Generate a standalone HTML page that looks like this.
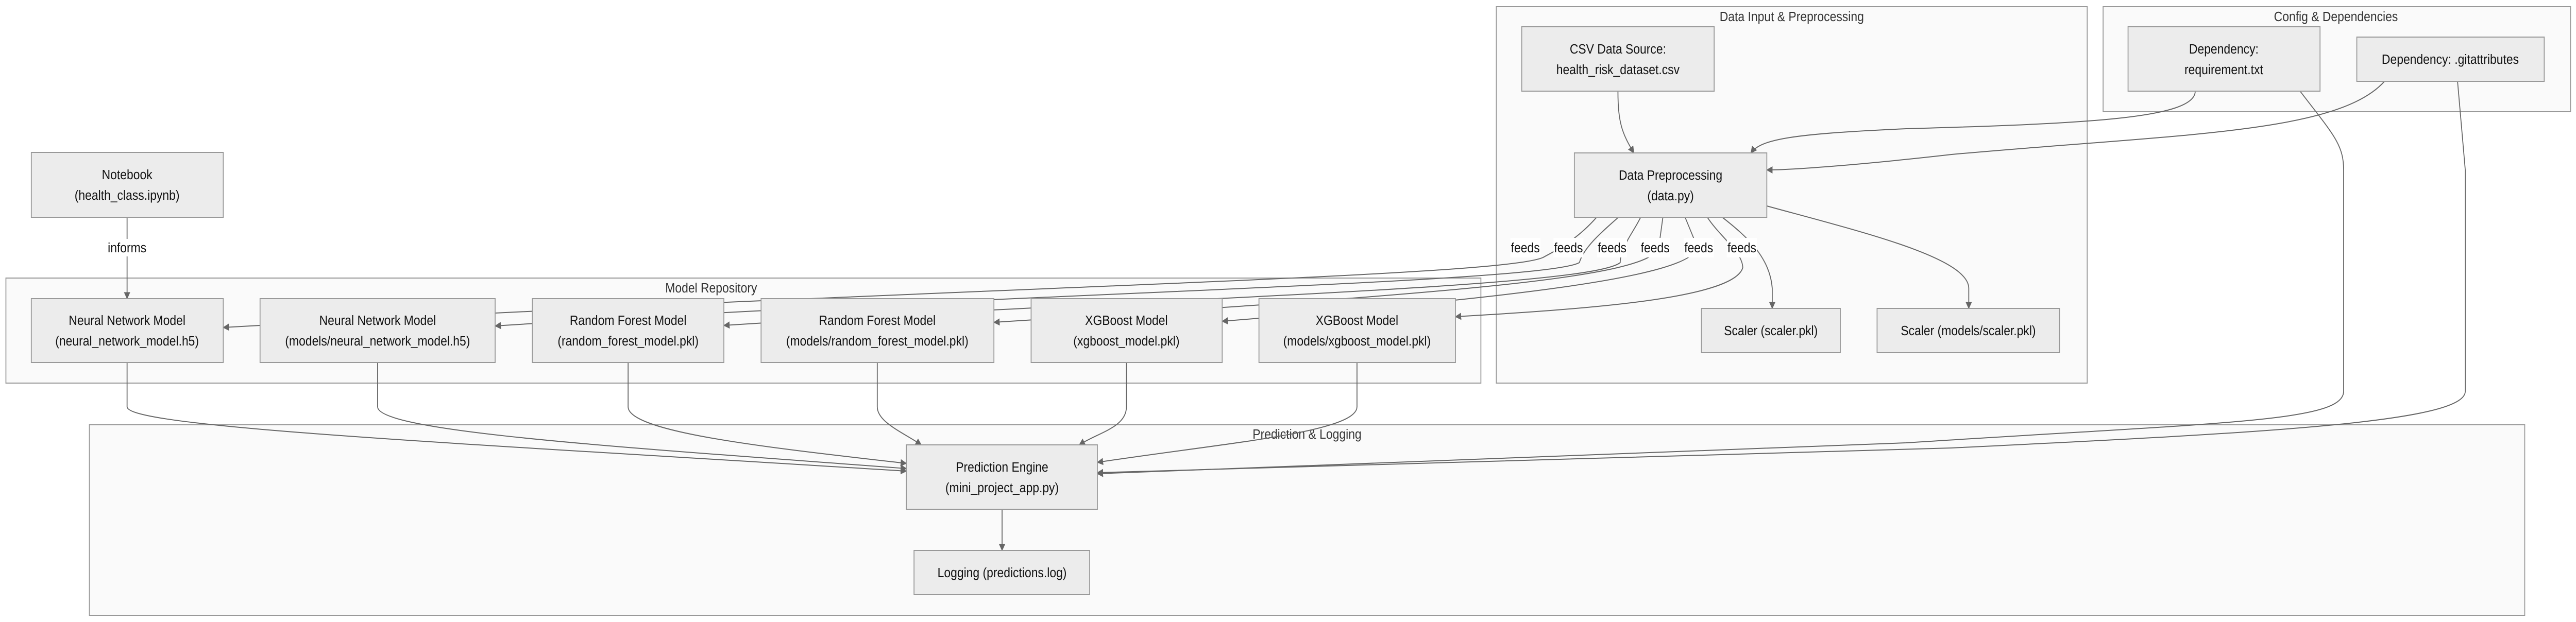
<!DOCTYPE html>
<html><head><meta charset="utf-8">
<style>
html,body{margin:0;padding:0;background:#fff;width:100%;height:100%;overflow:hidden;}
body{font-family:"Liberation Sans",sans-serif;}
svg{position:absolute;left:0;top:0;width:100vw;height:100vh;display:block;}
</style></head><body>
<svg viewBox="0 0 5676 1208" preserveAspectRatio="none" xmlns="http://www.w3.org/2000/svg">
<defs>
<marker id="b" viewBox="0 0 10 10" refX="9" refY="5" markerWidth="14" markerHeight="14" markerUnits="userSpaceOnUse" orient="auto"><path d="M0,0 L10,5 L0,10 z" fill="#666"/></marker>
</defs>
<g fill="#fafafa" stroke="#999" stroke-width="2">
<rect x="3297" y="13" width="1302" height="731"/>
<rect x="4634" y="13" width="1030" height="204"/>
<rect x="13" y="540" width="3250" height="204"/>
<rect x="197" y="825" width="5366" height="370"/>
</g>
<g font-size="26" fill="#333" text-anchor="middle">
<text x="3948" y="41">Data Input &amp; Preprocessing</text>
<text x="5147" y="41">Config &amp; Dependencies</text>
<text x="1567" y="568">Model Repository</text>
<text x="2880" y="852">Prediction &amp; Logging</text>
</g>
<g fill="none" stroke="#666" stroke-width="2" marker-end="url(#b)">
<path d="M3565,177 C3565,240 3575,260 3600,297"/>
<path d="M4837,177 C4837,230 4600,240 4200,250 C3950,260 3880,270 3858,297"/>
<path d="M5254,158 C5150,260 4800,260 4300,300 C4100,320 3950,330 3893,330"/>
<path d="M5068,177 C5140,260 5164,280 5164,330 L5164,760 C5164,820 4900,820 4200,860 L2418,920"/>
<path d="M5415,158 L5432,330 L5432,760 C5432,820 5000,840 4300,870 L2418,918"/>
<path d="M3518,422 C3470,470 3420,490 3400,500 C3300,540 2000,560 492,636"/>
<path d="M3566,422 C3530,450 3490,480 3480,510 C3400,550 2200,570 1091,633"/>
<path d="M3615,422 C3600,450 3570,480 3570,510 C3500,560 2500,580 1595,632"/>
<path d="M3664,422 L3655,480 C3640,540 3200,570 2190,626"/>
<path d="M3713,422 L3740,480 C3730,540 3300,580 2693,624"/>
<path d="M3762,422 C3790,460 3840,490 3840,520 C3820,580 3500,600 3207,615"/>
<path d="M3795,422 C3850,460 3900,500 3905,560 L3905,599"/>
<path d="M3893,400 C4100,450 4338,500 4338,560 L4338,599"/>
<path d="M280,422 L280,580"/>
<path d="M280,704 L280,790 C280,830 1000,860 1997,915"/>
<path d="M832,704 L832,790 C832,840 1400,870 1997,910"/>
<path d="M1384,704 L1384,790 C1384,840 1700,870 1997,900"/>
<path d="M1933,704 L1933,790 C1933,820 1990,840 2030,864"/>
<path d="M2482,704 L2482,790 C2482,830 2420,840 2378,864"/>
<path d="M2990,704 L2990,790 C2990,840 2700,860 2418,898"/>
<path d="M2208,989 L2208,1069"/>
</g>
<g fill="#ececec" stroke="#999" stroke-width="2">
<rect x="69" y="296" width="423" height="126"/>
<rect x="69" y="580" width="423" height="124"/>
<rect x="573" y="580" width="518" height="124"/>
<rect x="1173" y="580" width="422" height="124"/>
<rect x="1677" y="580" width="513" height="124"/>
<rect x="2272" y="580" width="421" height="124"/>
<rect x="2774" y="580" width="433" height="124"/>
<rect x="3353" y="52" width="424" height="125"/>
<rect x="4689" y="52" width="423" height="125"/>
<rect x="5193" y="72" width="413" height="86"/>
<rect x="3469" y="297" width="424" height="125"/>
<rect x="3749" y="599" width="306" height="86"/>
<rect x="4136" y="599" width="402" height="86"/>
<rect x="1997" y="864" width="421" height="125"/>
<rect x="2014" y="1069" width="387" height="86"/>
</g>
<g font-size="26" fill="#111" text-anchor="middle">
<rect x="235" y="464" width="90" height="34" fill="#fff"/>
<text x="280" y="490">informs</text>
<rect x="3328" y="462" width="66" height="38" fill="#fff"/><text x="3361" y="490">feeds</text>
<rect x="3423" y="462" width="66" height="38" fill="#fff"/><text x="3456" y="490">feeds</text>
<rect x="3519" y="462" width="66" height="38" fill="#fff"/><text x="3552" y="490">feeds</text>
<rect x="3614" y="462" width="66" height="38" fill="#fff"/><text x="3647" y="490">feeds</text>
<rect x="3710" y="462" width="66" height="38" fill="#fff"/><text x="3743" y="490">feeds</text>
<rect x="3805" y="462" width="66" height="38" fill="#fff"/><text x="3838" y="490">feeds</text>
<text x="280" y="348">Notebook</text><text x="280" y="388">(health_class.ipynb)</text>
<text x="280" y="631">Neural Network Model</text><text x="280" y="671">(neural_network_model.h5)</text>
<text x="832" y="631">Neural Network Model</text><text x="832" y="671">(models/neural_network_model.h5)</text>
<text x="1384" y="631">Random Forest Model</text><text x="1384" y="671">(random_forest_model.pkl)</text>
<text x="1933" y="631">Random Forest Model</text><text x="1933" y="671">(models/random_forest_model.pkl)</text>
<text x="2482" y="631">XGBoost Model</text><text x="2482" y="671">(xgboost_model.pkl)</text>
<text x="2990" y="631">XGBoost Model</text><text x="2990" y="671">(models/xgboost_model.pkl)</text>
<text x="3565" y="104">CSV Data Source:</text><text x="3565" y="144">health_risk_dataset.csv</text>
<text x="4900" y="104">Dependency:</text><text x="4900" y="144">requirement.txt</text>
<text x="5399" y="124">Dependency: .gitattributes</text>
<text x="3681" y="349">Data Preprocessing</text><text x="3681" y="389">(data.py)</text>
<text x="3902" y="651">Scaler (scaler.pkl)</text>
<text x="4337" y="651">Scaler (models/scaler.pkl)</text>
<text x="2208" y="916">Prediction Engine</text><text x="2208" y="956">(mini_project_app.py)</text>
<text x="2208" y="1121">Logging (predictions.log)</text>
</g>
</svg>
</body></html>
